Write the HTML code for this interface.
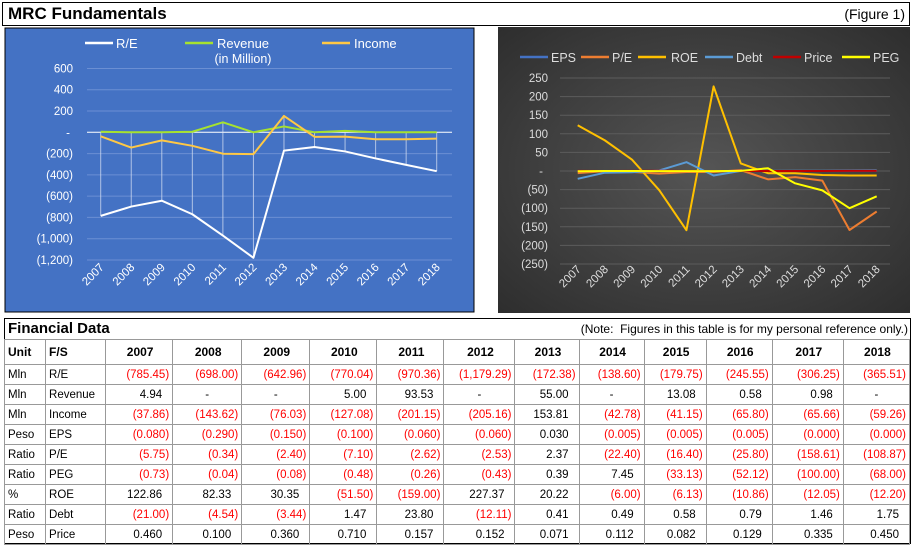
<!DOCTYPE html>
<html><head><meta charset="utf-8"><style>
body{margin:0;width:912px;height:545px;background:#fff;font-family:"Liberation Sans",sans-serif;position:relative;overflow:hidden}
.abs{position:absolute}
table{border-collapse:collapse;font-size:11.5px;table-layout:fixed}
td{border:1px solid #999;height:19px;padding:0 3px;white-space:nowrap}
td.n{text-align:right}
.neg{color:#f00}
th{border:1px solid #999;font-size:12px;height:22px}
</style></head><body>
<div class="abs" style="left:2px;top:2px;width:906px;height:22px;border:1px solid #000;">
<span style="position:absolute;left:5px;top:1px;font-size:17px;font-weight:bold">MRC Fundamentals</span>
<span style="position:absolute;right:4px;top:3px;font-size:14px">(Figure 1)</span></div>

<svg class="abs" style="left:0;top:0" width="912" height="318" id="charts">
<rect x="5" y="28" width="469" height="284" fill="#4472c4" stroke="#000" stroke-width="1"/>
<rect x="498" y="27" width="412" height="286" fill="#3c3c3c"/>
<defs><radialGradient id="rg" cx="0.5" cy="0.5" r="0.7"><stop offset="0" stop-color="#555"/><stop offset="1" stop-color="#2e2e2e"/></radialGradient></defs>
<rect x="498" y="27" width="412" height="286" fill="url(#rg)"/>
<g id="left"></g><g id="right"></g>
</svg>

<div class="abs" style="left:4px;top:318px;width:905px;height:224px;border:1px solid #000">
<div style="position:absolute;left:3px;top:1px;font-size:15px;font-weight:bold">Financial Data</div>
<div style="position:absolute;right:2px;top:3px;font-size:12px">(Note:&nbsp; Figures in this table is for my personal reference only.)</div>
<table id="tbl" style="position:absolute;left:-1px;top:20px;width:906px"></table>
</div>

<script>
const years=["2007","2008","2009","2010","2011","2012","2013","2014","2015","2016","2017","2018"];
const reVals=[-785.45,-698.00,-642.96,-770.04,-970.36,-1179.29,-172.38,-138.60,-179.75,-245.55,-306.25,-365.51];
const revVals=[4.94,0,0,5.00,93.53,0,55.00,0,13.08,0.58,0.98,0];
const incVals=[-37.86,-143.62,-76.03,-127.08,-201.15,-205.16,153.81,-42.78,-41.15,-65.80,-65.66,-59.26];
const epsVals=[-0.080,-0.290,-0.150,-0.100,-0.060,-0.060,0.030,-0.005,-0.005,-0.005,-0.000,-0.000];
const peVals=[-5.75,-0.34,-2.40,-7.10,-2.62,-2.53,2.37,-22.40,-16.40,-25.80,-158.61,-108.87];
const pegVals=[-0.73,-0.04,-0.08,-0.48,-0.26,-0.43,0.39,7.45,-33.13,-52.12,-100.00,-68.00];
const roeVals=[122.86,82.33,30.35,-51.50,-159.00,227.37,20.22,-6.00,-6.13,-10.86,-12.05,-12.20];
const debtVals=[-21.00,-4.54,-3.44,1.47,23.80,-12.11,0.41,0.49,0.58,0.79,1.46,1.75];
const priceVals=[0.460,0.100,0.360,0.710,0.157,0.152,0.071,0.112,0.082,0.129,0.335,0.450];
const leftTicks=[600,400,200,0,-200,-400,-600,-800,-1000,-1200];
const rightTicks=[250,200,150,100,50,0,-50,-100,-150,-200,-250];
const NS="http://www.w3.org/2000/svg";
function mk(p,t,a){const e=document.createElementNS(NS,t);for(const k in a)e.setAttribute(k,a[k]);p.appendChild(e);return e;}
function fmtTick(v){if(v===0)return "-";const s=Math.abs(v).toLocaleString("en-US");return v<0?"("+s+")":s;}
// LEFT CHART
const L=document.getElementById("left");
const lx=i=>100.7+i*(436.7-100.7)/11;
const ly=v=>132.3-v*(127.7/1200);
leftTicks.forEach(t=>{const g=mk(L,"line",{x1:87,x2:452,y1:ly(t),y2:ly(t),stroke:t===0?"#fff":"#6b8fd3","stroke-width":1});

const tx=mk(L,"text",{x:t===0?70:73,y:ly(t)+4,"text-anchor":"end","font-size":11.5,fill:"#fff"});tx.textContent=fmtTick(t);
});
years.forEach((y,i)=>{const hi=Math.max(reVals[i],revVals[i],incVals[i]),lo=Math.min(reVals[i],revVals[i],incVals[i]);
const d=mk(L,"line",{x1:lx(i),x2:lx(i),y1:ly(hi),y2:ly(lo),stroke:"#dfe6f5","stroke-width":1,opacity:0.7});

const tx=mk(L,"text",{x:lx(i)+4,y:268,"text-anchor":"end","font-size":11.5,fill:"#fff",transform:`rotate(-45 ${lx(i)+4} 268)`});tx.textContent=y;
});
function series(G,vals,fx,fy,col,name,w){const p=mk(G,"polyline",{points:vals.map((v,i)=>fx(i)+","+fy(v)).join(" "),fill:"none",stroke:col,"stroke-width":w||2,"stroke-linejoin":"round"});
}
series(L,reVals,lx,ly,"#ffffff","re-line");
series(L,revVals,lx,ly,"#a6e22e","revenue-line");
series(L,incVals,lx,ly,"#ffc845","income-line");
function legend(G,x1,y,col,label,tx,name,fs){const l=mk(G,"line",{x1:x1,x2:x1+28,y1:y,y2:y,stroke:col,"stroke-width":2.5});

const t=mk(G,"text",{x:tx,y:y+5,"font-size":fs||13,fill:G===L?"#fff":"#ddd"});t.textContent=label;
}
legend(L,85,43,"#fff","R/E",116,"legend-re");
legend(L,185,43,"#a6e22e","Revenue",217,"legend-revenue");
const sub=mk(L,"text",{x:243,y:63,"text-anchor":"middle","font-size":12.5,fill:"#fff"});sub.textContent="(in Million)";

legend(L,322,43,"#ffc845","Income",354,"legend-income");
// RIGHT CHART
const R=document.getElementById("right");
const rx=i=>577.7+i*(876.7-577.7)/11;
const ry=v=>171-v*(93/250);
rightTicks.forEach(t=>{const g=mk(R,"line",{x1:560,x2:890,y1:ry(t),y2:ry(t),stroke:"#5c5c5c","stroke-width":1});

const tx=mk(R,"text",{x:t===0?543:548,y:ry(t)+4,"text-anchor":"end","font-size":11.5,fill:"#ddd"});tx.textContent=fmtTick(t);
});
years.forEach((y,i)=>{const tx=mk(R,"text",{x:rx(i)+4,y:270,"text-anchor":"end","font-size":11.5,fill:"#ddd",transform:`rotate(-45 ${rx(i)+4} 270)`});tx.textContent=y;
});
series(R,epsVals,rx,ry,"#4472c4","eps-line");
series(R,peVals,rx,ry,"#ed7d31","pe-line");
series(R,roeVals,rx,ry,"#ffc000","roe-line");
series(R,debtVals,rx,ry,"#5b9bd5","debt-line");
series(R,priceVals,rx,ry,"#c00000","price-line");
series(R,pegVals,rx,ry,"#ffff00","peg-line");
legend(R,520,57,"#4472c4","EPS",551,"legend-eps",12.5);
legend(R,581,57,"#ed7d31","P/E",612,"legend-pe",12.5);
legend(R,638,57,"#ffc000","ROE",671,"legend-roe",12.5);
legend(R,705,57,"#5b9bd5","Debt",736,"legend-debt",12.5);
legend(R,773,57,"#c00000","Price",804,"legend-price",12.5);
legend(R,842,57,"#ffff00","PEG",873,"legend-peg",12.5);
// TABLE
const rows=[["Mln","R/E",reVals,2],["Mln","Revenue",revVals,2],["Mln","Income",incVals,2],["Peso","EPS",epsVals,3],["Ratio","P/E",peVals,2],["Ratio","PEG",pegVals,2],["%","ROE",roeVals,2],["Ratio","Debt",debtVals,2],["Peso","Price",priceVals,3]];
const widths=[41,60,67,69,68,67,67,71,64,65,62,66,71,66];
const tb=document.getElementById("tbl");
const cg=document.createElement("colgroup");widths.forEach(w=>{const c=document.createElement("col");c.style.width=w+"px";cg.appendChild(c);});tb.appendChild(cg);
const hr=document.createElement("tr");


["Unit","F/S"].concat(years).forEach((h,i)=>{const th=document.createElement("th");th.textContent=h;th.style.textAlign=i<2?"left":"center";th.style.paddingLeft="3px";hr.appendChild(th);});
tb.appendChild(hr);
rows.forEach(r=>{const tr=document.createElement("tr");


const a=document.createElement("td");a.textContent=r[0];tr.appendChild(a);
const b=document.createElement("td");b.textContent=r[1];tr.appendChild(b);
r[2].forEach((v,i)=>{const td=document.createElement("td");
let s;
if(v===0&&r[3]===2&&r[1]==="Revenue"){s="-";td.style.textAlign="center";}
else{const neg=v<0||Object.is(v,-0)||(r[1]==="EPS"&&i>=10);s=Math.abs(v).toLocaleString("en-US",{minimumFractionDigits:r[3],maximumFractionDigits:r[3]});
if(neg){s="("+s+")";td.className="n neg";}else{td.className="n";td.style.paddingRight="10px";}}
td.textContent=s;tr.appendChild(td);});
tb.appendChild(tr);});
</script>
</body></html>
